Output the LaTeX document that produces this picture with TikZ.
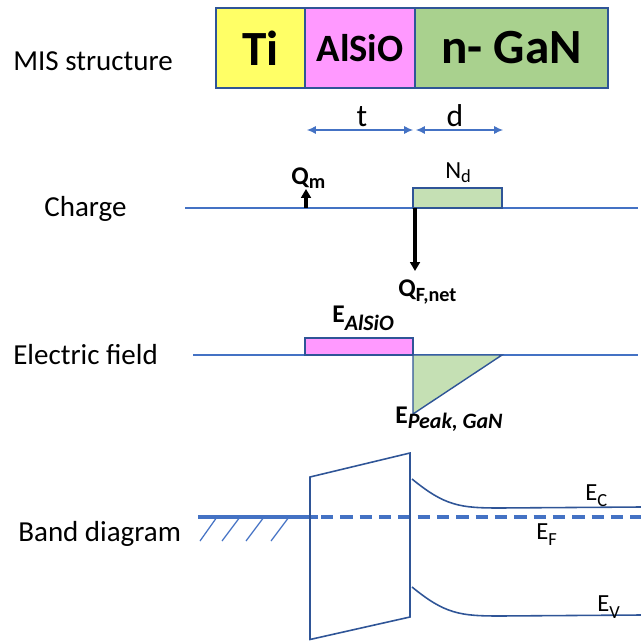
\documentclass[tikz,border=0pt]{standalone}
\usepackage{fontspec}
\setmainfont{Carlito}
\usetikzlibrary{arrows.meta,positioning}
\definecolor{tiyellow}{HTML}{FFFF66}
\definecolor{alsiopink}{HTML}{FF99FF}
\definecolor{gangreen}{HTML}{A9D18E}
\definecolor{ndgreen}{HTML}{C5E0B4}
\definecolor{lineblue}{HTML}{4472C4}
\definecolor{edgeblue}{HTML}{2F5597}
\newcommand{\lowsub}[3]{\raisebox{-#1}{\fontsize{#2}{#2}\selectfont #3}}

\begin{document}
\begin{tikzpicture}[
    x=0.02cm, y=-0.02cm,
    layer/.style={
        draw=edgeblue,
        line width=0.8pt,
        minimum height=1.6cm,
        inner sep=0pt,
        outer sep=0pt,
        font=\bfseries\fontsize{28}{30}\selectfont
    },
    rowlabel/.style={anchor=base west, inner sep=0pt, font=\fontsize{16.5}{19}\selectfont},
    tag/.style={anchor=base west, inner sep=0pt, font=\fontsize{14}{16}\selectfont},
    axis/.style={draw=lineblue, line width=0.8pt},
    band/.style={draw=edgeblue, line width=0.9pt},
    dimarrow/.style={{Latex[length=5pt,width=4.5pt]}-{Latex[length=5pt,width=4.5pt]}, draw=lineblue, line width=0.6pt},
    chargearrow/.style={-{Triangle[length=5pt,width=5.5pt]}, line width=1.8pt}
]
\useasboundingbox (0,0) rectangle (641,641);

% MIS stack
\node[layer, fill=tiyellow, minimum width=1.78cm] (ti) at (260.5,48) {Ti};
\node[layer, fill=alsiopink, minimum width=2.2cm, right=0cm of ti,
      font=\bfseries\fontsize{22}{24}\selectfont] (alsio) {AlSiO};
\node[layer, fill=gangreen, minimum width=3.86cm, right=0cm of alsio] (gan) {n- GaN};
\node[rowlabel] (mis) at (13,70.7) {MIS structure};

\coordinate (tleft) at (307,130);
\coordinate (tright) at (413,130);
\coordinate (dleft) at (416,130);
\coordinate (dright) at (503,130);
\draw[dimarrow] (tleft) -- (tright);
\draw[dimarrow] (dleft) -- (dright);
\node[anchor=base, inner sep=0pt, font=\fontsize{18}{20}\selectfont] (tlab) at (362,126.5) {t};
\node[anchor=base, inner sep=0pt, font=\fontsize{18}{20}\selectfont] (dlab) at (455,126.5) {d};

% charge
\node[rowlabel] (charge) at (44,216.5) {Charge};
\draw[axis] (185,208) -- (638,208);
\draw[draw=edgeblue, line width=0.8pt, fill=ndgreen] (413,188) rectangle (502,208);
\node[tag] (nd) at (445,179) {N\lowsub{2pt}{10.5}{d}};
\coordinate (qmfoot) at (306,208);
\coordinate (qmtip) at (306,189);
\draw[chargearrow] (qmfoot) -- (qmtip);
\node[tag, font=\bfseries\fontsize{14.5}{16}\selectfont] (qm) at (291,185) {Q\lowsub{2pt}{11.5}{m}};
\coordinate (qffoot) at (415,208);
\coordinate (qftip) at (415,271);
\draw[chargearrow] (qffoot) -- (qftip);
\node[tag, font=\bfseries\fontsize{14.5}{16}\selectfont] (qf) at (398,296.7) {Q\lowsub{3pt}{11.5}{F,net}};

% electric field
\node[rowlabel] (efield) at (13,364) {Electric field};
\draw[axis] (193,355) -- (638,355);
\draw[draw=edgeblue, line width=0.8pt, fill=alsiopink] (305,338) rectangle (413,355);
\draw[draw=edgeblue, line width=0.8pt, fill=ndgreen] (413,355) -- (413,414) -- (502,355) -- cycle;
\node[tag, font=\bfseries\fontsize{14.5}{16}\selectfont] (eox) at (332,322)
    {E\lowsub{5pt}{12.5}{\itshape AlSiO}};
\node[tag, font=\bfseries\fontsize{14.5}{16}\selectfont] (epeak) at (395,423)
    {E\lowsub{3pt}{12.5}{\itshape Peak, GaN}};

% band diagram
\node[rowlabel] (bands) at (18,541.7) {Band diagram};
\draw[draw=lineblue, line width=2.3pt] (198,517) -- (318,517);
\draw[draw=lineblue, line width=2.3pt, dash pattern=on 7pt off 4pt] (321,517) -- (641,517);
\foreach \top/\bot in {217/200, 240/222, 264/246, 289/271}
    \draw[draw=lineblue, line width=0.7pt] (\top,517) -- (\bot,541);
\draw[band] (310,477) -- (410,453) -- (410,617) -- (310,639.5) -- cycle;
\draw[band] (412,479) .. controls (445,506) and (460,508) .. (500,508) -- (641,507);
\draw[band] (412,587) .. controls (445,614) and (460,616) .. (500,616) -- (641,615);
\node[tag] (ec) at (585,500) {E\lowsub{3.8pt}{10.5}{C}};
\node[tag] (ef) at (536,539) {E\lowsub{3.8pt}{10.5}{F}};
\node[tag] (ev) at (597,611.7) {E\lowsub{3.8pt}{10.5}{V}};
\end{tikzpicture}
\end{document}
